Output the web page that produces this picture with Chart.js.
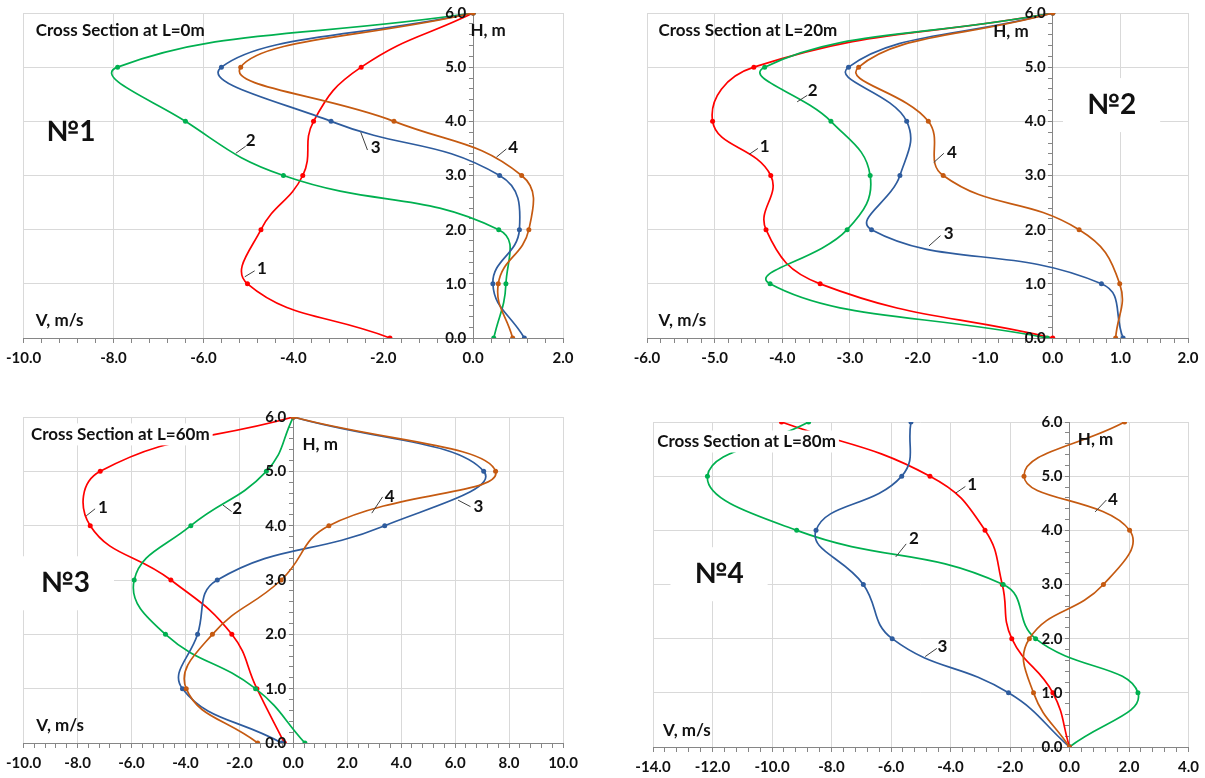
<!DOCTYPE html>
<html>
<head>
<meta charset="utf-8">
<title>Velocity profiles</title>
<script src="https://cdn.jsdelivr.net/npm/chart.js@4.4.1/dist/chart.umd.min.js"></script>
<style>
  html, body { margin: 0; padding: 0; background: #ffffff; }
  #wrap { position: relative; width: 1205px; height: 778px; overflow: hidden; }
  .panel { position: absolute; }
</style>
</head>
<body>
<div id="wrap">
  <div class="panel" style="left:0;top:0;width:600px;height:389px"><canvas id="chartL0"></canvas></div>
  <div class="panel" style="left:600px;top:0;width:605px;height:389px"><canvas id="chartL20"></canvas></div>
  <div class="panel" style="left:0;top:389px;width:600px;height:389px"><canvas id="chartL60"></canvas></div>
  <div class="panel" style="left:600px;top:389px;width:605px;height:389px"><canvas id="chartL80"></canvas></div>
</div>
<script>
// ==========================================
// DATA (V in m/s at each depth H in m)
// ==========================================

const heights = [0.0, 1.0, 2.0, 3.0, 4.0, 5.0, 6.0];
const seriesNames = ['1', '2', '3', '4'];

// Cross section L = 0 m
const l0Curve1 = [-1.85, -5.02, -4.72, -3.79, -3.55, -2.49, 0.0];
const l0Curve2 = [0.46, 0.73, 0.57, -4.22, -6.40, -7.91, 0.0];
const l0Curve3 = [1.14, 0.44, 1.03, 0.59, -3.16, -5.60, 0.0];
const l0Curve4 = [0.88, 0.56, 1.24, 1.08, -1.76, -5.17, 0.0];

// Cross section L = 20 m
const l20Curve1 = [0.0, -3.44, -4.24, -4.17, -5.03, -4.42, 0.0];
const l20Curve2 = [-0.08, -4.18, -3.04, -2.70, -3.28, -4.26, 0.0];
const l20Curve3 = [1.04, 0.72, -2.68, -2.26, -2.16, -3.02, 0.0];
const l20Curve4 = [0.93, 0.99, 0.39, -1.62, -1.84, -2.87, 0.0];

// Cross section L = 60 m
const l60Curve1 = [-0.33, -1.35, -2.28, -4.54, -7.53, -7.16, 0.0];
const l60Curve2 = [0.43, -1.40, -4.74, -5.90, -3.80, -1.00, 0.0];
const l60Curve3 = [-0.43, -4.11, -3.55, -2.82, 3.39, 7.06, 0.0];
const l60Curve4 = [-1.32, -3.97, -3.00, -0.45, 1.32, 7.50, 0.0];

// Cross section L = 80 m
const l80Curve1 = [0.0, -0.56, -1.94, -2.26, -2.84, -4.69, -9.68];
const l80Curve2 = [0.0, 2.30, -1.14, -2.23, -9.17, -12.17, -8.77];
const l80Curve3 = [0.0, -2.05, -5.96, -6.93, -8.52, -5.64, -5.33];
const l80Curve4 = [0.0, -1.21, -1.35, 1.14, 2.02, -1.53, 1.85];

// ==========================================
// STYLE
// ==========================================

const curveColors = ['#FF0000', '#00B050', '#2E5C9E', '#C55A11'];
const gridColor = '#D9D9D9';
const axisColor = '#868686';
const textColor = '#111111';
const fontFamily = 'Lato, "Open Sans", "DejaVu Sans", sans-serif';

const isMultiple = (v, step) => Math.abs(v / step - Math.round(v / step)) < 1e-6;

const buildSteps = (min, max, step) => {
    const out = [];
    const n = Math.round((max - min) / step);
    for (let i = 0; i <= n; i++) out.push({ value: +(min + i * step).toFixed(3) });
    return out;
};

// H tick labels (kept a few px left of the centre axis), then
// text, leader lines and white boxes drawn on top of the curves
const notesPlugin = {
    id: 'notes',
    afterDatasetsDraw(chart, args, opts) {
        const { ctx } = chart;
        const xs = chart.scales.x;
        const ys = chart.scales.y;
        ctx.save();

        ctx.font = `bold 15px ${fontFamily}`;
        ctx.textAlign = 'right';
        ctx.textBaseline = 'middle';
        ctx.fillStyle = textColor;
        const axisX = xs.getPixelForValue(0);
        ys.ticks.forEach(t => {
            if (isMultiple(t.value, 1)) {
                ctx.fillText(t.value.toFixed(1), axisX - 7, ys.getPixelForValue(t.value));
            }
        });

        ctx.strokeStyle = '#404040';
        ctx.lineWidth = 1;
        (opts.leaders || []).forEach(l => {
            ctx.beginPath();
            ctx.moveTo(xs.getPixelForValue(l[0]), ys.getPixelForValue(l[1]));
            ctx.lineTo(xs.getPixelForValue(l[2]), ys.getPixelForValue(l[3]));
            ctx.stroke();
        });
        (opts.texts || []).forEach(t => {
            ctx.font = `bold ${t.size}px ${fontFamily}`;
            ctx.textAlign = t.align || 'center';
            ctx.textBaseline = 'middle';
            const px = xs.getPixelForValue(t.x);
            const py = ys.getPixelForValue(t.y);
            if (t.box) {
                const w = ctx.measureText(t.text).width;
                const left = t.align === 'left' ? px : px - w / 2;
                ctx.fillStyle = '#ffffff';
                ctx.fillRect(left - t.box[0], py - t.box[1], w + 2 * t.box[0], 2 * t.box[1]);
            }
            ctx.fillStyle = textColor;
            ctx.fillText(t.text, px, py);
        });
        ctx.restore();
    }
};

// ==========================================
// CHART FACTORY
// ==========================================

function makePanel(id, cfg) {
    const datasets = cfg.curves.map((vals, i) => ({
        label: seriesNames[i],
        data: vals.map((v, k) => ({ x: v, y: heights[k] })),
        showLine: true,
        borderColor: curveColors[i],
        backgroundColor: curveColors[i],
        borderWidth: 1.7,
        pointRadius: 2.5,
        pointBorderWidth: 0,
        tension: 0.45,
        order: 4 - i
    }));

    const tickFont = { family: fontFamily, size: 15, weight: 'bold' };

    return new Chart(document.getElementById(id), {
        type: 'scatter',
        data: { datasets },
        plugins: [notesPlugin],
        options: {
            responsive: true,
            maintainAspectRatio: false,
            animation: false,
            events: [],
            layout: { padding: cfg.padding },
            plugins: {
                legend: { display: false },
                tooltip: { enabled: false },
                notes: { texts: cfg.texts, leaders: cfg.leaders }
            },
            scales: {
                x: {
                    type: 'linear',
                    position: 'bottom',
                    min: cfg.xMin,
                    max: cfg.xMax,
                    afterBuildTicks: s => { s.ticks = buildSteps(cfg.xMin, cfg.xMax, cfg.xMinor); },
                    afterFit: s => { s.height = cfg.axisHeight; },
                    ticks: {
                        autoSkip: false,
                        maxRotation: 0,
                        padding: 6,
                        color: textColor,
                        font: tickFont,
                        callback: v => isMultiple(v, cfg.xMajor) ? v.toFixed(1) : ''
                    },
                    grid: {
                        color: c => (c.tick && isMultiple(c.tick.value, cfg.xMajor)) ? gridColor : 'rgba(0,0,0,0)',
                        tickColor: axisColor,
                        tickLength: 5,
                        lineWidth: 1
                    },
                    border: { color: axisColor, width: 1 }
                },
                y: {
                    type: 'linear',
                    position: { x: 0 },
                    min: 0,
                    max: 6,
                    afterBuildTicks: s => { s.ticks = buildSteps(0, 6, 0.2); },
                    ticks: {
                        autoSkip: false,
                        padding: 4,
                        font: tickFont,
                        callback: () => ''   // labels drawn by the notes plugin
                    },
                    grid: {
                        color: c => (c.tick && isMultiple(c.tick.value, 1)) ? gridColor : 'rgba(0,0,0,0)',
                        tickColor: axisColor,
                        tickLength: 4,
                        lineWidth: 1
                    },
                    border: { color: axisColor, width: 1 }
                }
            }
        }
    });
}

// ==========================================
// PANELS
// ==========================================

makePanel('chartL0', {
    curves: [l0Curve1, l0Curve2, l0Curve3, l0Curve4],
    xMin: -10, xMax: 2, xMajor: 2, xMinor: 0.4,
    padding: { left: 23, right: 37, top: 13, bottom: 0 },
    axisHeight: 51,
    texts: [
        { text: 'Cross Section at L=0m', x: -9.73, y: 5.67, size: 17, align: 'left' },
        { text: 'H, m', x: -0.06, y: 5.67, size: 17, align: 'left' },
        { text: 'V, m/s', x: -9.73, y: 0.32, size: 17, align: 'left' },
        { text: '№1', x: -8.95, y: 3.8, size: 28 },
        { text: '1', x: -4.70, y: 1.28, size: 17 },
        { text: '2', x: -4.95, y: 3.65, size: 17 },
        { text: '3', x: -2.17, y: 3.52, size: 17 },
        { text: '4', x: 0.89, y: 3.52, size: 17 }
    ],
    leaders: [
        [-5.08, 1.13, -4.86, 1.24],
        [-5.28, 3.41, -5.06, 3.54],
        [-2.50, 3.80, -2.35, 3.47],
        [0.52, 3.34, 0.74, 3.49]
    ]
});

makePanel('chartL20', {
    curves: [l20Curve1, l20Curve2, l20Curve3, l20Curve4],
    xMin: -6, xMax: 2, xMajor: 1, xMinor: 0.2,
    padding: { left: 47, right: 17, top: 13, bottom: 0 },
    axisHeight: 51,
    texts: [
        { text: 'Cross Section at L=20m', x: -5.83, y: 5.67, size: 17, align: 'left' },
        { text: 'H, m', x: -0.88, y: 5.65, size: 17, align: 'left' },
        { text: 'V, m/s', x: -5.83, y: 0.32, size: 17, align: 'left' },
        { text: '№2', x: 0.87, y: 4.3, size: 28, box: [24, 27] },
        { text: '1', x: -4.26, y: 3.53, size: 17 },
        { text: '2', x: -3.55, y: 4.56, size: 17 },
        { text: '3', x: -1.54, y: 1.92, size: 17 },
        { text: '4', x: -1.49, y: 3.43, size: 17 }
    ],
    leaders: [
        [-4.49, 3.39, -4.36, 3.50],
        [-3.78, 4.36, -3.63, 4.48],
        [-1.83, 1.70, -1.66, 1.89],
        [-1.76, 3.24, -1.61, 3.41]
    ]
});

makePanel('chartL60', {
    curves: [l60Curve1, l60Curve2, l60Curve3, l60Curve4],
    xMin: -10, xMax: 10, xMajor: 2, xMinor: 0.4,
    padding: { left: 23, right: 37, top: 28, bottom: 0 },
    axisHeight: 35,
    texts: [
        { text: 'Cross Section at L=60m', x: -9.73, y: 5.68, size: 17, align: 'left', box: [3, 11] },
        { text: 'H, m', x: 0.34, y: 5.50, size: 17, align: 'left' },
        { text: 'V, m/s', x: -9.53, y: 0.33, size: 17, align: 'left' },
        { text: '№3', x: -8.45, y: 2.94, size: 28, box: [24, 27] },
        { text: '1', x: -7.06, y: 4.34, size: 17 },
        { text: '2', x: -2.08, y: 4.32, size: 17 },
        { text: '3', x: 6.86, y: 4.36, size: 17 },
        { text: '4', x: 3.57, y: 4.53, size: 17 }
    ],
    leaders: [
        [-7.68, 4.18, -7.35, 4.31],
        [-2.61, 4.38, -2.29, 4.26],
        [6.11, 4.47, 6.57, 4.35],
        [2.91, 4.23, 3.31, 4.53]
    ]
});

makePanel('chartL80', {
    curves: [l80Curve1, l80Curve2, l80Curve3, l80Curve4],
    xMin: -14, xMax: 4, xMajor: 2, xMinor: 0.4,
    padding: { left: 53, right: 12, top: 33, bottom: 0 },
    axisHeight: 31,
    texts: [
        { text: 'Cross Section at L=80m', x: -13.86, y: 5.64, size: 17, align: 'left', box: [3, 11] },
        { text: 'H, m', x: 0.28, y: 5.67, size: 17, align: 'left' },
        { text: 'V, m/s', x: -13.66, y: 0.31, size: 17, align: 'left' },
        { text: '№4', x: -11.78, y: 3.19, size: 28, box: [24, 27] },
        { text: '1', x: -3.27, y: 4.84, size: 17 },
        { text: '2', x: -5.23, y: 3.85, size: 17 },
        { text: '3', x: -4.27, y: 1.85, size: 17 },
        { text: '4', x: 1.46, y: 4.56, size: 17 }
    ],
    leaders: [
        [-3.82, 4.69, -3.50, 4.81],
        [-5.84, 3.51, -5.49, 3.75],
        [-4.85, 1.67, -4.46, 1.82],
        [0.86, 4.34, 1.24, 4.56]
    ]
});
</script>
</body>
</html>
